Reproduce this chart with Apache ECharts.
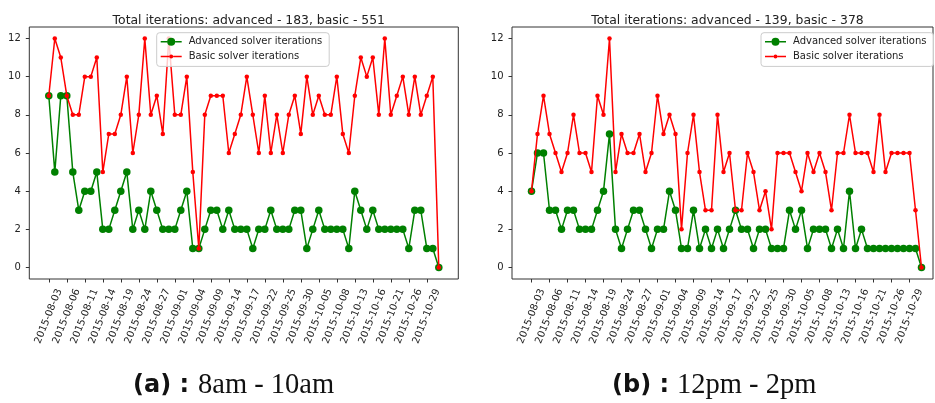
<!DOCTYPE html>
<html>
<head>
<meta charset="utf-8">
<script src="https://cdn.jsdelivr.net/npm/echarts@6/dist/echarts.min.js"></script>
<style>
  html, body { margin: 0; padding: 0; background: #fff; }
  #chart { width: 935px; height: 403px; }
</style>
</head>
<body>
<div id="chart"></div>
<script>
// Business days covered by the runs
const dates = [
  '2015-08-03','2015-08-04','2015-08-05','2015-08-06','2015-08-07',
  '2015-08-10','2015-08-11','2015-08-12','2015-08-13','2015-08-14',
  '2015-08-17','2015-08-18','2015-08-19','2015-08-20','2015-08-21',
  '2015-08-24','2015-08-25','2015-08-26','2015-08-27','2015-08-28',
  '2015-08-31','2015-09-01','2015-09-02','2015-09-03','2015-09-04',
  '2015-09-07','2015-09-08','2015-09-09','2015-09-10','2015-09-11',
  '2015-09-14','2015-09-15','2015-09-16','2015-09-17','2015-09-18',
  '2015-09-21','2015-09-22','2015-09-23','2015-09-24','2015-09-25',
  '2015-09-28','2015-09-29','2015-09-30','2015-10-01','2015-10-02',
  '2015-10-05','2015-10-06','2015-10-07','2015-10-08','2015-10-09',
  '2015-10-12','2015-10-13','2015-10-14','2015-10-15','2015-10-16',
  '2015-10-19','2015-10-20','2015-10-21','2015-10-22','2015-10-23',
  '2015-10-26','2015-10-27','2015-10-28','2015-10-29','2015-10-30',
  '2015-11-02'
];

// Dates that carry a tick label
const tickDates = [
  '2015-08-03','2015-08-06','2015-08-11','2015-08-14','2015-08-19','2015-08-24',
  '2015-08-27','2015-09-01','2015-09-04','2015-09-09','2015-09-14','2015-09-17',
  '2015-09-22','2015-09-25','2015-09-30','2015-10-05','2015-10-08','2015-10-13',
  '2015-10-16','2015-10-21','2015-10-26','2015-10-29'
];
const yTicks = [0, 2, 4, 6, 8, 10, 12];

// (a) 8am - 10am
const advancedMorning = [
  9,5,9,9,5,3,4,4,5,2,2,3,4,5,2,3,2,4,3,2,2,2,3,4,1,1,2,3,3,2,3,2,2,2,
  1,2,2,3,2,2,2,3,3,1,2,3,2,2,2,2,1,4,3,2,3,2,2,2,2,2,1,3,3,1,1,0
];
const basicMorning = [
  9,12,11,9,8,8,10,10,11,5,7,7,8,10,6,8,12,8,9,7,12,8,8,10,5,1,8,9,9,9,6,7,8,10,
  8,6,9,6,8,6,8,9,7,10,8,9,8,8,10,7,6,9,11,10,11,8,12,8,9,10,8,10,8,9,10,0
];

// (b) 12pm - 2pm
const advancedNoon = [
  4,6,6,3,3,2,3,3,2,2,2,3,4,7,2,1,2,3,3,2,1,2,2,4,3,1,1,3,1,2,1,2,1,2,
  3,2,2,1,2,2,1,1,1,3,2,3,1,2,2,2,1,2,1,4,1,2,1,1,1,1,1,1,1,1,1,0
];
const basicNoon = [
  4,7,9,7,6,5,6,8,6,6,5,9,8,12,5,7,6,6,7,5,6,9,7,8,7,2,6,8,5,3,3,8,5,6,
  3,3,6,5,3,4,2,6,6,6,5,4,6,5,6,5,3,6,6,8,6,6,6,5,8,5,6,6,6,6,3,0
];

const ADV = 'Advanced solver iterations';
const BAS = 'Basic solver iterations';
const GREEN = '#008000';
const RED = '#ff0000';
const FONT = '"DejaVu Sans", sans-serif';

const tickIdx = tickDates.map(d => dates.indexOf(d));
const sum = arr => arr.reduce((a, b) => a + b, 0);
const pairs = arr => arr.map((v, i) => [i, v]);

// legend glyphs: a short line with the series marker in the middle
const ICON_ADV = 'path://M0 4.25L6.5 4.25L6.5 5.75L0 5.75Z M14.5 4.25L21 4.25L21 5.75L14.5 5.75Z M6.5 5A4 4 0 1 0 14.5 5A4 4 0 1 0 6.5 5Z';
const ICON_BAS = 'path://M0 4.25L8.5 4.25L8.5 5.75L0 5.75Z M12.5 4.25L21 4.25L21 5.75L12.5 5.75Z M8.5 5A2 2 0 1 0 12.5 5A2 2 0 1 0 8.5 5Z';

const panels = [
  { left: 29.3, width: 429, xMin: -3.25, xMax: 68.25, adv: advancedMorning, bas: basicMorning,
    legendLeft: 156.7, label: '(a) :', sub: '8am - 10am', capX: 133, subX: 198 },
  { left: 512, width: 421, xMin: -3.25, xMax: -3.25 + 421 / 6, adv: advancedNoon, bas: basicNoon,
    legendLeft: 761, label: '(b) :', sub: '12pm - 2pm', capX: 612, subX: 677 }
];

const option = {
  animation: false,
  backgroundColor: '#fff',
  title: panels.map(p => ({
    text: 'Total iterations: advanced - ' + sum(p.adv) + ', basic - ' + sum(p.bas),
    left: p.left + p.width / 2,
    textAlign: 'center',
    top: 9.5,
    textStyle: { fontFamily: FONT, fontSize: 12.4, fontWeight: 'normal', color: '#222' }
  })),
  legend: panels.map(p => ({
    orient: 'vertical',
    left: p.legendLeft,
    top: 32.7,
    itemWidth: 21,
    itemHeight: 10,
    itemGap: 4.7,
    padding: [4, 7, 5, 4],
    backgroundColor: 'rgba(255,255,255,0.8)',
    borderColor: '#cccccc',
    borderWidth: 1,
    borderRadius: 3,
    selectedMode: false,
    textStyle: { fontFamily: FONT, fontSize: 10, color: '#222', padding: [0, 0, 0, 2] },
    data: [
      { name: ADV, icon: ICON_ADV, itemStyle: { color: GREEN, borderWidth: 0 } },
      { name: BAS, icon: ICON_BAS, itemStyle: { color: RED, borderWidth: 0 } }
    ]
  })),
  grid: panels.map(p => ({
    left: p.left, top: 27, width: p.width, height: 252,
    show: true, borderColor: '#333', borderWidth: 1, backgroundColor: 'transparent'
  })),
  xAxis: panels.map((p, k) => ({
    type: 'value',
    gridIndex: k,
    position: 'bottom',
    min: p.xMin,
    max: p.xMax,
    axisLine: { show: false, onZero: false },
    splitLine: { show: false },
    axisTick: { show: true, length: 3.5, customValues: tickIdx, lineStyle: { color: '#333', width: 1 } },
    axisLabel: {
      customValues: tickIdx,
      formatter: v => dates[Math.round(v)],
      rotate: 68,
      margin: 6,
      verticalAlign: 'top',
      padding: [6.5, 0, 0, 0],
      fontFamily: FONT,
      fontSize: 10,
      color: '#222'
    }
  })),
  yAxis: panels.map((p, k) => ({
    type: 'value',
    gridIndex: k,
    position: 'left',
    min: -0.6,
    max: 12.6,
    axisLine: { show: false, onZero: false },
    splitLine: { show: false },
    axisTick: { show: true, length: 3.5, customValues: yTicks, lineStyle: { color: '#333', width: 1 } },
    axisLabel: { customValues: yTicks, margin: 8.5, fontFamily: FONT, fontSize: 10, color: '#222' }
  })),
  series: panels.flatMap((p, k) => [
    {
      type: 'line', name: ADV, xAxisIndex: k, yAxisIndex: k,
      data: pairs(p.adv),
      symbol: 'circle', symbolSize: 7.5, showSymbol: true, showAllSymbol: true,
      lineStyle: { color: GREEN, width: 1.5 },
      itemStyle: { color: GREEN, borderWidth: 0 },
      emphasis: { disabled: true },
      z: 2
    },
    {
      type: 'line', name: BAS, xAxisIndex: k, yAxisIndex: k,
      data: pairs(p.bas),
      symbol: 'circle', symbolSize: 4.5, showSymbol: true, showAllSymbol: true,
      lineStyle: { color: RED, width: 1.5 },
      itemStyle: { color: RED, borderWidth: 0 },
      emphasis: { disabled: true },
      z: 3
    }
  ]),
  graphic: panels.flatMap(p => [
    {
      type: 'text', x: p.capX, y: 386,
      style: { text: p.label, fontFamily: FONT, fontWeight: 'bold', fontSize: 24,
               fill: '#111', verticalAlign: 'middle' }
    },
    {
      type: 'text', x: p.subX, y: 386,
      style: { text: p.sub, fontFamily: '"Liberation Serif", "DejaVu Serif", serif', fontSize: 28.5,
               fill: '#111', verticalAlign: 'middle' }
    }
  ])
};

const chart = echarts.init(document.getElementById('chart'), null, { renderer: 'canvas' });
chart.setOption(option);
</script>
</body>
</html>
